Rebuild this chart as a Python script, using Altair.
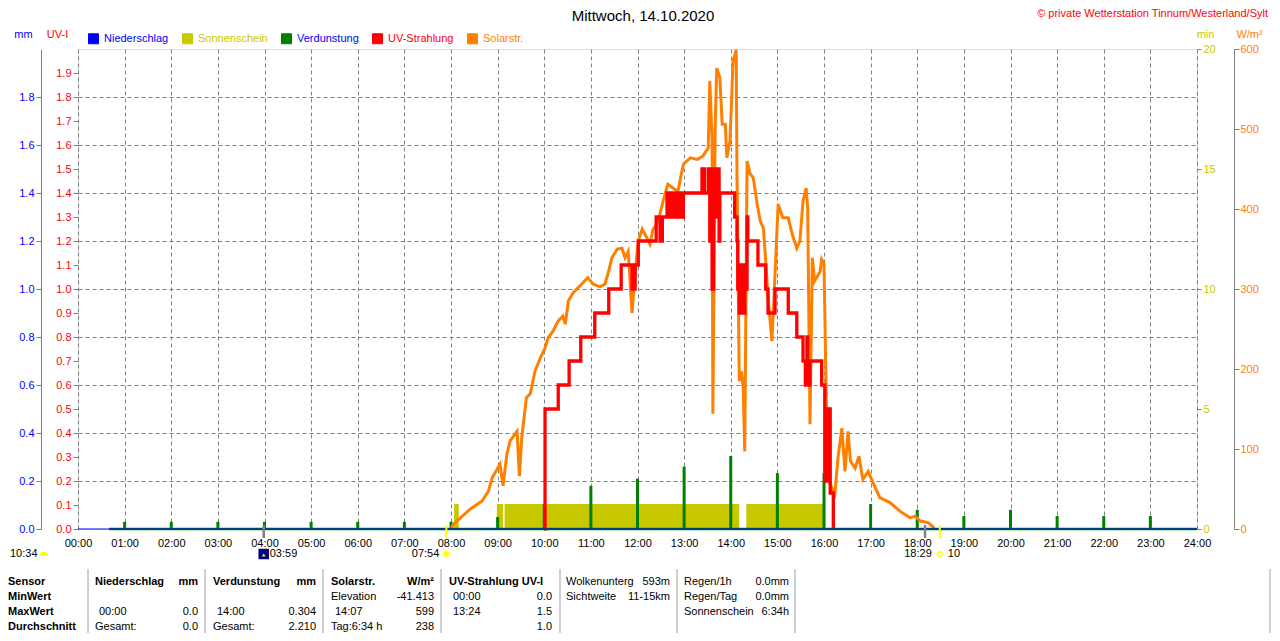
import re
import altair as alt
import pandas as pd

FONT = "Liberation Sans"
W, H = 1119, 480          # plot area
OX, OY = 78, 48           # page position of the plot origin (used for annotation layout)

GRAY = "#808080"
BLUE = "#0000FF"
YELLOW = "#C8C800"
GREEN = "#008000"
RED = "#FF0000"
ORANGE = "#FF8000"
SUNY = "#FFFF00"

# ---------------- data ----------------
series_names = ["Niederschlag", "Sonnenschein", "Verdunstung", "UV-Strahlung", "Solarstr."]
series_colors = [BLUE, YELLOW, GREEN, RED, ORANGE]

hour_ticks = list(range(0, 1441, 60))

# solar radiation (minute of day, W/m²)
solar_min = [480, 483, 505, 520, 528, 533, 543, 547, 552, 556, 565, 568, 571, 577, 582, 588, 595, 601,
             605, 611, 618, 624, 627, 631, 637, 646, 656, 663, 672, 678, 682, 687, 694, 700, 704, 708,
             713, 717, 721, 726, 732, 736, 740, 746, 753, 759, 766, 772, 779, 788, 797, 804, 811, 813,
             816, 817, 820, 822, 826, 829, 833, 835, 839, 843, 847, 848, 851, 854, 856, 858, 861, 865,
             869, 874, 878, 882, 885, 888, 893, 897, 901, 907, 914, 919, 925, 929, 933, 937, 939, 942,
             945, 948, 955, 957, 960, 963, 968, 974, 978, 983, 987, 991, 994, 1000, 1005, 1010, 1017,
             1023, 1032, 1045, 1058, 1071, 1077, 1084, 1094, 1100, 1102]
solar_wm2 = [0, 6, 25, 35, 47, 64, 81, 54, 94, 110, 122, 66, 114, 164, 169, 197, 214, 226,
             239, 247, 260, 266, 256, 285, 295, 304, 314, 306, 303, 306, 319, 339, 350, 351, 339, 347,
             270, 322, 360, 375, 364, 356, 375, 383, 410, 431, 426, 422, 456, 464, 462, 466, 476, 560,
             485, 144, 506, 576, 564, 506, 506, 464, 485, 585, 599, 444, 185, 197, 176, 97, 460, 444,
             439, 406, 385, 376, 335, 289, 235, 319, 406, 389, 389, 369, 351, 360, 410, 426, 401, 131,
             339, 310, 322, 337, 331, 160, 56, 44, 89, 126, 72, 122, 85, 76, 91, 62, 72,
             58, 39, 33, 22, 14, 16, 10, 8, 3, 0]

# UV index (minute of day, UV-I), stepwise
uv_min = [600, 601, 618, 632, 647, 665, 683, 699, 713, 717, 721, 744, 749, 752, 758, 762, 764, 768,
          772, 775, 779, 803, 806, 811, 813, 815, 816, 818, 821, 824, 825, 826, 845, 848, 849, 851,
          852, 853, 855, 856, 858, 860, 861, 862, 875, 885, 888, 897, 914, 925, 933, 936, 938, 939,
          942, 957, 961, 964, 968, 972]
uv_index = [0.0, 0.5, 0.6, 0.7, 0.8, 0.9, 1.0, 1.1, 1.0, 1.1, 1.2, 1.3, 1.2, 1.3, 1.4, 1.3, 1.4, 1.3,
            1.4, 1.3, 1.4, 1.5, 1.4, 1.5, 1.2, 1.5, 1.0, 1.5, 1.3, 1.5, 1.2, 1.4, 1.3, 1.2, 1.0, 0.9,
            1.1, 0.9, 1.1, 0.9, 1.1, 1.0, 1.3, 1.2, 1.1, 1.0, 0.9, 1.0, 0.9, 0.8, 0.7, 0.6, 0.8, 0.6,
            0.7, 0.6, 0.2, 0.5, 0.15, 0.0]

# evaporation (hourly spikes, mm)
evap_min = [60, 120, 180, 240, 300, 360, 420, 480, 540, 600, 660, 720, 780, 840, 900, 960, 1020,
            1080, 1140, 1200, 1260, 1320, 1380]
evap_mm = [0.03, 0.03, 0.03, 0.03, 0.03, 0.03, 0.03, 0.03, 0.05, 0.104, 0.18, 0.21, 0.26, 0.304,
           0.233, 0.233, 0.104, 0.08, 0.054, 0.08, 0.054, 0.054, 0.054]

# sunshine (segments, minutes of sunshine per minute)
sun_start = [484, 539, 549, 860]
sun_end = [490, 547, 851, 959]
sun_minutes = [1.04, 1.04, 1.04, 1.04]

# precipitation and evaporation baseline
rain_min = [0, 1440]
rain_mm = [0.0, 0.0]
evap_base_min = [40, 1440]
evap_base_mm = [0.0, 0.0]

# sun / moon events below the time axis
moon_min = [239]
moon_text = ["03:59"]
sunrise_min = [474]
sunrise_text = ["07:54"]
sunset_min = [1109]
sunset_text = ["18:29"]
sunset_extra = ["10"]
gray_mark_min = [239, 1090]
yellow_mark_min = [474, 1109]
daylength_text = ["10:34"]

title_text = ["Mittwoch, 14.10.2020"]
credit_text = ["© private Wetterstation Tinnum/Westerland/Sylt"]

# summary table
row_heads = ["Sensor", "MinWert", "MaxWert", "Durchschnitt"]
tbl_left = [
    ["Niederschlag", "", "00:00", "Gesamt:"],
    ["Verdunstung", "", "14:00", "Gesamt:"],
    ["Solarstr.", "Elevation", "14:07", "Tag:6:34 h"],
    ["UV-Strahlung UV-I", "00:00", "13:24", ""],
    ["Wolkenunterg", "Sichtweite", "", ""],
    ["Regen/1h", "Regen/Tag", "Sonnenschein", ""],
]
tbl_right = [
    ["mm", "", "0.0", "0.0"],
    ["mm", "", "0.304", "2.210"],
    ["W/m²", "-41.413", "599", "238"],
    ["", "0.0", "1.5", "1.0"],
    ["593m", "11-15km", "", ""],
    ["0.0mm", "0.0mm", "6:34h", ""],
]
header_bold = [True, True, True, True, False, False]

# ---------------- table layout (page pixels) ----------------
ROW_Y = [581, 596, 611, 626]
HEAD_X = 8
COL_L = [95, 213, 331, 449, 566, 684]
COL_R = [198, 316, 434, 552, 670, 789]
SEP_X = [88, 205, 323, 441, 560, 677, 795, 1270]
SEP_TOP, SEP_BOTTOM = 568, 632
TIME_INDENT = 4

cells = []
for r, t in enumerate(row_heads):
    cells.append(dict(text=t, px=HEAD_X - OX, py=ROW_Y[r] - OY, side="left", bold=True))
for c in range(len(tbl_left)):
    for r in range(4):
        t = tbl_left[c][r]
        if t:
            ind = TIME_INDENT if re.fullmatch(r"\d\d:\d\d", t) else 0
            cells.append(dict(text=t, px=COL_L[c] + ind - OX, py=ROW_Y[r] - OY, side="left",
                              bold=bool(r == 0 and header_bold[c])))
        t = tbl_right[c][r]
        if t:
            cells.append(dict(text=t, px=COL_R[c] - OX, py=ROW_Y[r] - OY, side="right",
                              bold=bool(r == 0 and header_bold[c])))
cells_df = pd.DataFrame(cells)
sep_df = pd.DataFrame({"px": [x - OX for x in SEP_X], "y0": SEP_TOP - OY, "y1": SEP_BOTTOM - OY})

# ---------------- scales / axes ----------------
x_scale = alt.Scale(domain=[0, 1440], nice=False, zero=False, padding=0)
mm_scale = alt.Scale(domain=[0, 2], nice=False, padding=0)
uv_scale = alt.Scale(domain=[0, 2], nice=False, padding=0)
min_scale = alt.Scale(domain=[0, 20], nice=False, padding=0)
wm2_scale = alt.Scale(domain=[0, 600], nice=False, padding=0)

title_common = dict(titleAngle=0, titleAlign="center", titleBaseline="middle", titleFontSize=11,
                    titleFontWeight="normal", titleFont=FONT, titleY=-15,
                    labelFont=FONT, labelFontSize=11, labelOverlap=False)

x_axis = alt.Axis(values=hour_ticks, title=None, ticks=False, domain=False, labelPadding=8,
                  labelFlush=False, labelOverlap=False, labelColor="black", labelFont=FONT,
                  labelFontSize=11,
                  labelExpr="(datum.value < 600 ? '0' : '') + floor(datum.value / 60) + ':00'",
                  grid=True, gridColor=GRAY, gridDash=[4, 3], gridWidth=1, gridOpacity=1)

uv_axis = alt.Axis(orient="left", offset=0, values=[i / 10 for i in range(20)], format=".1f",
                   labelColor=RED, tickColor=GRAY, tickSize=5, labelPadding=2, domain=False,
                   grid=False, title="UV-I", titleColor=RED, titleX=-21, **title_common)
mm_axis = alt.Axis(orient="left", offset=37, values=[i / 5 for i in range(10)], format=".1f",
                   labelColor=BLUE, tickColor=GRAY, tickSize=5, labelPadding=2, domain=True,
                   domainColor=GRAY, domainWidth=1, grid=False, title="mm", titleColor=BLUE,
                   titleX=-18, **title_common)
grid_axis = alt.Axis(orient="left", offset=0, values=[i / 5 for i in range(1, 10)], grid=True,
                     gridColor=GRAY, gridDash=[4, 3], gridWidth=1, gridOpacity=1, labels=False,
                     ticks=False, domain=False, title=None)
min_axis = alt.Axis(orient="right", offset=0, values=[0, 5, 10, 15, 20], labelColor=YELLOW,
                    tickColor=GRAY, tickSize=4, labelPadding=2, domain=False, grid=False,
                    title="min", titleColor=YELLOW, titleX=8, **title_common)
wm2_axis = alt.Axis(orient="right", offset=37, values=list(range(0, 601, 100)), labelColor=ORANGE,
                    tickColor=GRAY, tickSize=5, labelPadding=1, domain=True, domainColor=GRAY,
                    domainWidth=1, grid=False, title="W/m²", titleColor=ORANGE, titleX=15,
                    **title_common)

label_color_expr = ("(datum.value == 'Niederschlag' || datum.value == 'Verdunstung') ? '#0000FF' : "
                    "datum.value == 'Sonnenschein' ? '#C8C800' : "
                    "datum.value == 'UV-Strahlung' ? '#FF0000' : '#FF8000'")
legend = alt.Legend(orient="none", legendX=10, legendY=-16, direction="horizontal", title=None,
                    symbolType="square", symbolSize=100, symbolStrokeColor="black",
                    symbolStrokeWidth=1, symbolOpacity=1, labelFont=FONT, labelFontSize=11,
                    labelOffset=5, columnPadding=11, labelColor=alt.ExprRef(expr=label_color_expr))
color_scale = alt.Scale(domain=series_names, range=series_colors)


def series_color():
    return alt.Color("series:N", scale=color_scale, legend=legend)


# ---------------- layers ----------------
sun_df = pd.DataFrame({"start": sun_start, "end": sun_end, "minutes": sun_minutes})
sun_layer = alt.Chart(sun_df).transform_calculate(series="'Sonnenschein'", zero="0").mark_rect(
    opacity=1).encode(
    x=alt.X("start:Q", scale=x_scale, axis=x_axis),
    x2="end:Q",
    y=alt.Y("minutes:Q", scale=min_scale, axis=min_axis),
    y2="zero:Q",
    color=series_color())

evap_df = pd.DataFrame({"m": evap_min, "mm": evap_mm})
evap_layer = alt.Chart(evap_df).transform_calculate(series="'Verdunstung'").mark_bar(
    size=3, opacity=1).encode(
    x=alt.X("m:Q", scale=x_scale),
    y=alt.Y("mm:Q", scale=mm_scale, axis=mm_axis),
    color=series_color())

solar_df = pd.DataFrame({"m": solar_min, "w": solar_wm2})
solar_layer = alt.Chart(solar_df).transform_calculate(series="'Solarstr.'").mark_line(
    strokeWidth=3).encode(
    x=alt.X("m:Q", scale=x_scale),
    y=alt.Y("w:Q", scale=wm2_scale, axis=wm2_axis),
    color=series_color())

uv_df = pd.DataFrame({"m": uv_min, "uv": uv_index})
uv_layer = alt.Chart(uv_df).transform_calculate(series="'UV-Strahlung'").mark_line(
    strokeWidth=3.3, interpolate="step-after").encode(
    x=alt.X("m:Q", scale=x_scale),
    y=alt.Y("uv:Q", scale=uv_scale, axis=uv_axis),
    color=series_color())

base_df = pd.DataFrame({"m": evap_base_min, "mm": evap_base_mm})
base_layer = alt.Chart(base_df).transform_calculate(series="'Verdunstung'").mark_line(
    strokeWidth=2.5).encode(
    x=alt.X("m:Q", scale=x_scale),
    y=alt.Y("mm:Q", scale=mm_scale, axis=None),
    color=series_color())

rain_df = pd.DataFrame({"m": rain_min, "mm": rain_mm})
rain_layer = alt.Chart(rain_df).transform_calculate(series="'Niederschlag'").mark_line(
    strokeWidth=1.2).encode(
    x=alt.X("m:Q", scale=x_scale),
    y=alt.Y("mm:Q", scale=mm_scale, axis=grid_axis),
    color=series_color())

# event markers below the axis
gray_marks = alt.Chart(pd.DataFrame({"m": gray_mark_min})).mark_rule(
    color=GRAY, strokeWidth=2.5).encode(
    x=alt.X("m:Q", scale=x_scale), y=alt.value(H - 4), y2=alt.value(H + 9))
yellow_marks = alt.Chart(pd.DataFrame({"m": yellow_mark_min})).mark_rule(
    color=SUNY, strokeWidth=2).encode(
    x=alt.X("m:Q", scale=x_scale), y=alt.value(H - 4), y2=alt.value(H + 9))

ICON_Y = 553 - OY
moon_icon = alt.Chart(pd.DataFrame({"m": moon_min})).mark_square(
    size=110, color="#000080", opacity=1).encode(
    x=alt.X("m:Q", scale=x_scale), y=alt.value(ICON_Y))
moon_arrow = alt.Chart(pd.DataFrame({"m": moon_min})).mark_point(
    shape="triangle-up", filled=True, size=14, color=SUNY, opacity=1, yOffset=1).encode(
    x=alt.X("m:Q", scale=x_scale), y=alt.value(ICON_Y))
moon_label = alt.Chart(pd.DataFrame({"m": moon_min, "t": moon_text})).mark_text(
    align="left", baseline="middle", dx=6, fontSize=11, font=FONT, color="black").encode(
    x=alt.X("m:Q", scale=x_scale), y=alt.value(ICON_Y), text="t:N")

sunrise_icon = alt.Chart(pd.DataFrame({"m": sunrise_min})).mark_point(
    shape="circle", filled=True, size=45, color=SUNY, opacity=1, stroke="#FFFF99",
    strokeWidth=1.5).encode(
    x=alt.X("m:Q", scale=x_scale), y=alt.value(ICON_Y))
sunrise_label = alt.Chart(pd.DataFrame({"m": sunrise_min, "t": sunrise_text})).mark_text(
    align="right", baseline="middle", dx=-7, fontSize=11, font=FONT, color="black").encode(
    x=alt.X("m:Q", scale=x_scale), y=alt.value(ICON_Y), text="t:N")

sunset_icon = alt.Chart(pd.DataFrame({"m": sunset_min})).mark_point(
    shape="circle", filled=False, size=22, color=SUNY, opacity=1, strokeWidth=1.5).encode(
    x=alt.X("m:Q", scale=x_scale), y=alt.value(ICON_Y))
sunset_label = alt.Chart(pd.DataFrame({"m": sunset_min, "t": sunset_text})).mark_text(
    align="right", baseline="middle", dx=-8, fontSize=11, font=FONT, color="black").encode(
    x=alt.X("m:Q", scale=x_scale), y=alt.value(ICON_Y), text="t:N")
sunset_extra_label = alt.Chart(pd.DataFrame({"m": sunset_min, "t": sunset_extra})).mark_text(
    align="left", baseline="middle", dx=8, fontSize=11, font=FONT, color="black").encode(
    x=alt.X("m:Q", scale=x_scale), y=alt.value(ICON_Y), text="t:N")

daylen_label = alt.Chart(pd.DataFrame({"t": daylength_text})).mark_text(
    align="left", baseline="middle", fontSize=11, font=FONT, color="black").encode(
    x=alt.value(10 - OX), y=alt.value(ICON_Y), text="t:N")
daylen_icon = alt.Chart(pd.DataFrame({"t": daylength_text})).mark_point(
    shape="M -1 0.45 A 1 1 0 0 1 1 0.45 Z", filled=True, size=70, color=SUNY, opacity=1).encode(
    x=alt.value(44 - OX), y=alt.value(ICON_Y))

title_layer = alt.Chart(pd.DataFrame({"t": title_text})).mark_text(
    align="center", baseline="middle", fontSize=15, font=FONT, color="black").encode(
    x=alt.value(643 - OX), y=alt.value(15 - OY), text="t:N")
credit_layer = alt.Chart(pd.DataFrame({"t": credit_text})).mark_text(
    align="right", baseline="middle", fontSize=11, font=FONT, color=RED).encode(
    x=alt.value(1268 - OX), y=alt.value(13 - OY), text="t:N")


def table_text(side, bold):
    return alt.Chart(cells_df).transform_filter(
        f"datum.side == '{side}' && datum.bold == {str(bold).lower()}").mark_text(
        align=side, baseline="middle", fontSize=11, font=FONT,
        fontWeight="bold" if bold else "normal", color="black").encode(
        x=alt.X("px:Q", scale=None, axis=None),
        y=alt.Y("py:Q", scale=None, axis=None),
        text="text:N")


sep_layer = alt.Chart(sep_df).mark_rule(color="#A0A0A0", strokeWidth=1).encode(
    x=alt.X("px:Q", scale=None, axis=None),
    y=alt.Y("y0:Q", scale=None, axis=None),
    y2="y1:Q")

chart = alt.layer(
    sun_layer, evap_layer, solar_layer, uv_layer, base_layer, rain_layer,
    gray_marks, yellow_marks, moon_icon, moon_arrow, moon_label,
    sunrise_icon, sunrise_label, sunset_icon, sunset_label, sunset_extra_label,
    daylen_label, daylen_icon, title_layer, credit_layer,
    table_text("left", True), table_text("left", False),
    table_text("right", True), table_text("right", False), sep_layer,
).resolve_scale(y="independent").properties(
    width=W, height=H, padding=0, background="white"
).configure_view(stroke=GRAY, strokeWidth=3).configure(font=FONT)

chart.save("out.html", embed_options={"renderer": "svg", "actions": False})
